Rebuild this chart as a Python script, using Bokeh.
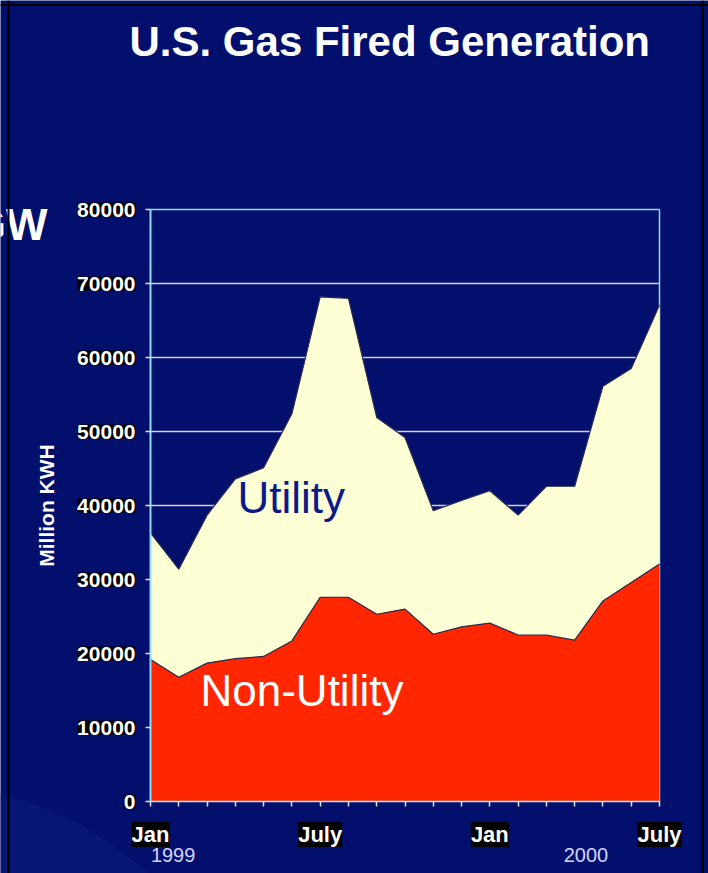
from bokeh.plotting import figure
from bokeh.models import (Range1d, FixedTicker, Label, LabelSet, ColumnDataSource, Span)
from bokeh.core.properties import value
from bokeh.embed import file_html
from bokeh.resources import INLINE

# ---- data ----
months = ["Jan", "Feb", "Mar", "Apr", "May", "Jun", "July", "Aug", "Sep",
          "Oct", "Nov", "Dec", "Jan", "Feb", "Mar", "Apr", "May", "Jun", "July"]
month_index = list(range(len(months)))
non_utility = [19200, 16800, 18700, 19300, 19600, 21700, 27600, 27600, 25300,
               26000, 22600, 23600, 24100, 22500, 22500, 21800, 27100, 29600, 32100]
total = [36300, 31400, 38700, 43600, 45100, 52400, 68200, 68000, 51900,
         49200, 39300, 40700, 42000, 38700, 42600, 42600, 56100, 58500, 67100]
x_label_pos = [0, 6, 12, 18]
x_label_text = ["Jan", "July", "Jan", "July"]
y_ticks = [0, 10000, 20000, 30000, 40000, 50000, 60000, 70000, 80000]
y_tick_text = [str(v) for v in y_ticks]
years = ["1999", "2000"]
year_pos = [0.8, 15.4]

# ---- layout constants (pixels) ----
W, H = 708, 873
FL, FR, FT, FB = 150, 659, 209, 801          # chart area inside the canvas
XMAX, YMAX = 18, 80000
PXX = (FR - FL) / XMAX                       # px per month
PXY = (FB - FT) / YMAX                       # px per unit


def dx(px):
    return (px - FL) / PXX


def dy(py):
    return (FB - py) / PXY


BG = "#020F6C"
FONT = "Liberation Sans"
CYAN = "#8FDCFF"
GRID = "#D0D0F4"

src = ColumnDataSource(dict(x=month_index, nu=non_utility, tot=total,
                            zero=[0] * len(month_index)))

p = figure(width=W, height=H, output_backend="svg", toolbar_location=None,
           title_location=None,
           x_range=Range1d(dx(0), dx(W)), y_range=Range1d(dy(H), dy(0)),
           min_border=0)
p.background_fill_color = BG
p.border_fill_color = BG
p.outline_line_color = None
p.xgrid.visible = False
p.ygrid.visible = False

# slide background: faint lighter sweep in the lower-left corner
sweep_px = [(0, 793), (40, 805), (80, 824), (118, 848), (148, 873), (0, 873)]
p.patch(x=[dx(a) for a, b in sweep_px], y=[dy(b) for a, b in sweep_px],
        fill_color="#071673", line_color=None)

# grid lines and chart frame (behind the areas)
inner = y_ticks[1:-1]
p.segment(x0=[0] * len(inner), x1=[XMAX] * len(inner), y0=inner, y1=inner,
          line_color=GRID, line_width=1.5)
p.segment(x0=[0, XMAX], x1=[XMAX, XMAX], y0=[YMAX, 0], y1=[YMAX, YMAX],
          line_color=CYAN, line_width=1.5)

# areas
p.varea(x="x", y1="nu", y2="tot", source=src, fill_color="#FFFFD6")
p.varea(x="x", y1="zero", y2="nu", source=src, fill_color="#FF2600")
p.line(x="x", y="tot", source=src, line_color="#2A2A50", line_width=1.2)
p.line(x="x", y="nu", source=src, line_color="#2A2A50", line_width=1.2)

# y axis
ya = p.yaxis[0]
ya.fixed_location = 0
ya.bounds = (0, YMAX)
ya.ticker = FixedTicker(ticks=y_ticks)
ya.major_label_overrides = {v: "" for v in y_ticks}
ya.axis_line_color = CYAN
ya.axis_line_width = 2
ya.major_tick_line_color = "#E0E0F4"
ya.major_tick_line_width = 1.5
ya.major_tick_out = 5
ya.major_tick_in = 0
ya.minor_tick_line_color = None
ya.major_label_standoff = 9
ya.axis_label = "Million KWH"
ya.axis_label_text_color = "white"
ya.axis_label_text_font = FONT
ya.axis_label_text_font_style = "bold"
ya.axis_label_text_font_size = "21px"
ya.axis_label_standoff = 88

# x axis
xa = p.xaxis[0]
xa.fixed_location = 0
xa.bounds = (0, XMAX)
xa.ticker = FixedTicker(ticks=month_index)
xa.major_label_overrides = {i: "" for i in month_index}
xa.axis_line_color = "#E8E8F8"
xa.axis_line_width = 1.5
xa.major_tick_line_color = "#E0E0F4"
xa.major_tick_line_width = 1.5
xa.major_tick_out = 5
xa.major_tick_in = 0
xa.minor_tick_line_color = None

# tick labels with black boxes
ysrc = ColumnDataSource(dict(y=y_ticks, x=[0] * len(y_ticks), t=y_tick_text))
p.add_layout(LabelSet(x="x", y="y", text="t", source=ysrc, x_offset=-15,
                      text_align="right", text_baseline="middle",
                      text_color="white", text_font=value(FONT),
                      text_font_style=value("bold"),
                      text_font_size=value("21px"), background_fill_color="black"))
xsrc = ColumnDataSource(dict(x=x_label_pos, y=[0] * len(x_label_pos), t=x_label_text))
p.add_layout(LabelSet(x="x", y="y", text="t", source=xsrc, y_offset=-33,
                      text_align="center", text_baseline="middle",
                      text_color="white", text_font=value(FONT),
                      text_font_style=value("bold"),
                      text_font_size=value("22px"), background_fill_color="black"))
yrsrc = ColumnDataSource(dict(x=year_pos, y=[0] * len(year_pos), t=years))
p.add_layout(LabelSet(x="x", y="y", text="t", source=yrsrc, y_offset=-53,
                      text_align="center", text_baseline="middle",
                      text_color="#D4D4FF", text_font=value(FONT),
                      text_font_size=value("20px")))

# area labels
p.add_layout(Label(x=dx(237), y=dy(497), text="Utility", text_color="#0B1A8A",
                   text_font=FONT, text_font_size="44px", text_baseline="middle"))
p.add_layout(Label(x=dx(200), y=dy(690), text="Non-Utility", text_color="white",
                   text_font=FONT, text_font_size="44px", text_baseline="middle"))

# slide texts
p.add_layout(Label(x=dx(129), y=dy(41), text="U.S. Gas Fired Generation",
                   text_color="white", text_font=FONT, text_font_style="bold",
                   text_font_size="42px", text_baseline="middle"))
p.add_layout(Label(x=dx(47), y=dy(224), text="GW",
                   text_color="white", text_font=FONT, text_font_style="bold",
                   text_font_size="44px", text_align="right",
                   text_baseline="middle"))

# slide frame lines
p.add_layout(Span(location=dx(8), dimension="height", line_color="black", line_width=2))
p.add_layout(Span(location=dx(702), dimension="height", line_color="black", line_width=2))
p.add_layout(Span(location=dy(4.5), dimension="width", line_color="black", line_width=2))

open("out.html", "w").write(file_html(p, INLINE))
